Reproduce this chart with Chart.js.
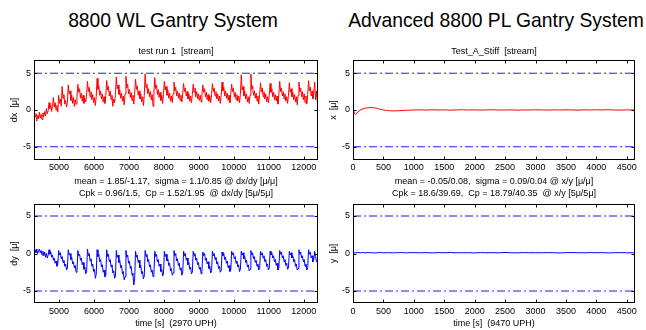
<!DOCTYPE html>
<html><head><meta charset="utf-8">
<script src="https://cdn.jsdelivr.net/npm/chart.js@4.4.1/dist/chart.umd.min.js"></script>
<style>
html,body{margin:0;padding:0;background:#fff;width:646px;height:330px;overflow:hidden;}
canvas{position:absolute;}
.main{position:absolute;font-family:"Liberation Sans",Arial,sans-serif;font-size:21px;line-height:24px;color:#000;white-space:nowrap;transform:translateX(-50%) scaleX(0.92);top:8px;}
</style></head><body>
<div class="main" style="left:173px">8800 WL Gantry System</div>
<div class="main" style="left:496px">Advanced 8800 PL Gantry System</div>
<canvas id="c1" width="322" height="156" style="left:0;top:44px"></canvas>
<canvas id="c2" width="327" height="156" style="left:319px;top:44px"></canvas>
<canvas id="c3" width="322" height="126" style="left:0;top:204px"></canvas>
<canvas id="c4" width="327" height="126" style="left:319px;top:204px"></canvas>
<script>
// ---------- data ----------
const timeLeft = [
4290,4315,4340,4365,4390,4415,
4440,4465,4490,4515,4540,4565,4590,4615,4640,4665,4690,
4715,4740,4765,4790,4815,4840,4865,4890,4915,4940,4965,
4990,5015,5040,5065,5090,5115,5140,5165,5190,5215,5240,
5265,5290,5315,5340,5365,5390,5415,5440,5465,5490,5515,
5540,5565,5590,5615,5640,5665,5690,5715,5740,5765,5790,
5815,5840,5865,5890,5915,5940,5965,5990,6015,6040,6065,
6090,6115,6140,6165,6190,6215,6240,6265,6290,6315,6340,
6365,6390,6415,6440,6465,6490,6515,6540,6565,6590,6615,
6640,6665,6690,6715,6740,6765,6790,6815,6840,6865,6890,
6915,6940,6965,6990,7015,7040,7065,7090,7115,7140,7165,
7190,7215,7240,7265,7290,7315,7340,7365,7390,7415,7440,
7465,7490,7515,7540,7565,7590,7615,7640,7665,7690,7715,
7740,7765,7790,7815,7840,7865,7890,7915,7940,7965,7990,
8015,8040,8065,8090,8115,8140,8165,8190,8215,8240,8265,
8290,8315,8340,8365,8390,8415,8440,8465,8490,8515,8540,
8565,8590,8615,8640,8665,8690,8715,8740,8765,8790,8815,
8840,8865,8890,8915,8940,8965,8990,9015,9040,9065,9090,
9115,9140,9165,9190,9215,9240,9265,9290,9315,9340,9365,
9390,9415,9440,9465,9490,9515,9540,9565,9590,9615,9640,
9665,9690,9715,9740,9765,9790,9815,9840,9865,9890,9915,
9940,9965,9990,10015,10040,10065,10090,10115,10140,10165,10190,
10215,10240,10265,10290,10315,10340,10365,10390,10415,10440,10465,
10490,10515,10540,10565,10590,10615,10640,10665,10690,10715,10740,
10765,10790,10815,10840,10865,10890,10915,10940,10965,10990,11015,
11040,11065,11090,11115,11140,11165,11190,11215,11240,11265,11290,
11315,11340,11365,11390,11415,11440,11465,11490,11515,11540,11565,
11590,11615,11640,11665,11690,11715,11740,11765,11790,11815,11840,
11865,11890,11915,11940,11965,11990,12015,12040,12065,12090,12115,
12140,12165,12190,12215,12240,12265,12290,12315,12340,12365,12390,
12410];
const dxWL = [
-0.3,-0.9,-0.5,-1.5,-0.7,-1.2,
-0.3,-1.1,-0.6,-1.3,-0.4,-0.9,-0.2,-0.8,0.2,-0.5,-0.1,
1.0,0.2,0.7,-0.2,0.5,1.7,0.4,1.0,0.0,0.6,-0.3,
2.0,0.9,1.5,0.5,3.2,1.6,2.1,0.8,1.3,0.4,1.0,
3.4,2.2,2.6,1.3,2.0,0.9,1.7,0.5,1.4,0.8,1.9,
3.5,2.4,2.9,1.6,2.3,1.2,2.0,0.9,1.6,1.1,2.2,
3.9,2.5,3.1,1.8,2.5,1.4,2.1,1.0,1.7,0.6,1.8,
4.3,2.8,3.3,2.0,2.6,1.5,2.2,1.1,1.8,0.9,2.0,
4.0,2.7,3.2,1.9,2.6,1.4,2.0,0.5,1.5,1.0,2.1,
4.5,2.9,3.4,2.1,2.7,1.6,2.3,1.2,1.9,0.7,2.2,
4.6,3.0,3.5,2.2,2.8,1.7,2.4,1.3,2.0,0.8,2.3,
4.2,2.8,3.3,2.0,2.6,1.5,2.2,1.1,1.8,0.6,2.0,
4.9,3.0,3.5,2.2,2.9,1.8,2.5,1.4,2.1,0.5,2.2,
4.4,2.9,3.4,2.1,2.8,1.7,2.4,1.3,2.0,0.9,2.3,
3.9,2.7,3.2,2.0,2.7,1.6,2.3,1.2,1.9,1.0,2.2,
3.8,2.6,3.1,1.9,2.6,1.6,2.3,1.3,2.0,1.1,2.3,
3.6,2.5,3.0,1.9,2.5,1.5,2.2,1.2,1.9,1.0,2.1,
3.5,2.4,3.0,1.8,2.5,1.5,2.2,1.3,2.0,1.1,2.2,
3.4,2.4,2.9,1.8,2.4,1.4,2.1,1.2,1.9,1.0,2.1,
3.6,2.5,3.0,1.9,2.5,1.5,2.2,1.2,1.9,0.9,2.0,
3.8,2.6,3.1,1.9,2.6,1.6,2.3,1.3,2.0,1.0,2.2,
3.5,2.5,3.0,1.8,2.4,1.4,2.1,1.2,1.9,1.0,2.1,
4.8,2.7,3.2,1.9,2.6,1.5,2.2,1.1,1.8,0.9,2.0,
4.9,2.8,3.3,2.0,2.6,1.6,2.3,1.2,1.9,0.8,2.1,
3.7,2.5,3.0,1.8,2.5,1.5,2.2,1.1,1.8,1.0,2.0,
3.6,2.4,2.9,1.8,2.4,1.4,2.1,1.2,1.9,0.8,2.1,
3.9,2.5,3.0,1.9,2.5,1.5,2.2,1.2,1.8,0.9,2.0,
3.7,2.4,2.9,1.8,2.4,1.4,2.1,1.1,1.8,0.7,2.0,
3.8,2.5,3.0,1.8,2.5,1.4,2.2,1.0,1.9,0.8,2.1,
4.0,2.6,3.1,1.9,2.6,1.5,2.3,3.8,1.4,2.6,1.0,
1.5];
const dyWL = [
0.2,0.5,0.1,0.6,0.0,0.4,
0.6,0.1,0.4,-0.2,0.3,-0.3,0.2,-0.5,0.0,-0.6,-0.2,
0.5,-0.1,0.2,-0.5,-0.2,-0.9,-0.6,-1.3,-1.0,-1.7,-1.5,
0.4,-0.2,0.1,-0.7,-0.4,-1.2,-0.9,-1.7,-1.4,-2.2,-2.0,
0.5,-0.2,0.0,-0.8,-0.5,-1.4,-1.1,-1.9,-1.6,-2.5,-2.3,
0.4,-0.3,-0.1,-0.9,-0.6,-1.5,-1.2,-2.1,-1.8,-2.7,-2.5,
0.6,-0.3,0.0,-1.0,-0.7,-1.7,-1.4,-2.4,-2.1,-3.3,-2.8,
0.5,-0.4,-0.1,-1.1,-0.8,-1.8,-1.5,-2.5,-2.2,-3.1,-2.9,
0.5,-0.4,-0.1,-1.1,-0.8,-1.8,-1.5,-2.6,-2.3,-3.3,-3.0,
0.4,-0.5,-0.2,-1.2,-0.9,-1.9,-1.6,-2.7,-2.4,-3.5,-3.1,
0.4,-0.5,-0.2,-1.3,-1.0,-2.0,-1.7,-2.9,-2.6,-4.2,-3.4,
0.3,-0.5,-0.2,-1.2,-0.9,-1.9,-1.6,-2.7,-2.4,-3.4,-3.0,
0.4,-0.4,-0.1,-1.1,-0.8,-1.8,-1.5,-2.5,-2.2,-3.1,-2.8,
0.3,-0.4,-0.1,-1.1,-0.8,-1.7,-1.4,-2.4,-2.1,-3.0,-2.7,
0.3,-0.4,-0.1,-1.0,-0.7,-1.6,-1.3,-2.3,-2.0,-2.9,-2.6,
0.4,-0.3,0.0,-1.0,-0.7,-1.6,-1.3,-2.2,-1.9,-2.9,-2.6,
0.3,-0.3,0.0,-0.9,-0.6,-1.5,-1.2,-2.1,-1.8,-2.7,-2.5,
0.3,-0.3,0.0,-0.9,-0.6,-1.5,-1.2,-2.1,-1.8,-2.7,-2.4,
0.2,-0.3,0.0,-0.9,-0.6,-1.4,-1.1,-2.0,-1.7,-2.6,-2.3,
0.3,-0.3,0.0,-0.8,-0.5,-1.4,-1.1,-2.0,-1.7,-2.5,-2.3,
0.2,-0.3,0.0,-0.8,-0.5,-1.3,-1.0,-1.9,-1.6,-2.4,-2.2,
0.3,-0.2,0.1,-0.7,-0.4,-1.3,-1.0,-1.8,-1.5,-2.4,-2.1,
0.3,-0.2,0.1,-0.7,-0.4,-1.2,-0.9,-1.8,-1.5,-2.3,-2.1,
0.4,-0.2,0.1,-0.7,-0.4,-1.2,-0.9,-1.7,-1.4,-2.2,-2.0,
0.3,-0.2,0.1,-0.6,-0.3,-1.1,-0.8,-1.7,-1.4,-2.2,-2.0,
0.3,-0.2,0.1,-0.6,-0.3,-1.1,-0.8,-1.6,-1.3,-2.2,-1.9,
0.4,-0.1,0.2,-0.6,-0.3,-1.1,-0.8,-1.6,-1.3,-2.1,-1.9,
0.3,-0.2,0.1,-0.6,-0.3,-1.1,-0.8,-1.7,-1.4,-2.2,-2.0,
0.5,-0.1,0.2,-0.6,-0.3,-1.1,-0.8,-1.7,-1.4,-2.2,-1.9,
0.5,-0.1,0.2,-0.6,-0.3,-1.1,-0.8,0.3,-0.4,-1.0,-1.2,
-1.5];
const timeRight = [
0,15,40,80,120,160,200,250,300,350,400,450,500,550,600,650,700,750,800,850,900,
1000,1100,1200,1300,1400,1500,1600,1700,1800,1900,2000,2100,2200,2300,2400,2500,
2600,2700,2800,2900,3000,3100,3200,3300,3400,3500,3600,3700,3800,3900,4000,4100,
4200,4300,4400,4500,4600,4635];
const xPL = [
-0.2,-0.4,-0.6,-0.3,0.0,0.15,0.25,0.3,0.32,0.3,0.2,0.1,0.0,-0.05,-0.1,-0.12,-0.12,-0.1,-0.08,-0.05,-0.03,
0.0,0.02,-0.01,0.03,0.0,0.02,-0.02,0.01,0.03,0.0,0.02,-0.01,0.01,0.03,-0.01,0.0,
0.02,-0.02,0.01,0.0,0.03,0.01,-0.01,0.02,0.0,0.03,0.01,-0.02,0.02,0.0,0.03,0.01,
0.04,0.0,-0.01,0.01,0.0,-0.02];
const yPL = [
0.05,0.08,0.1,0.12,0.1,0.13,0.09,0.12,0.1,0.08,0.11,0.13,0.09,0.1,0.12,0.08,0.11,0.1,0.13,0.09,0.1,
0.12,0.09,0.11,0.08,0.12,0.1,0.13,0.09,0.11,0.1,0.08,0.12,0.1,0.11,0.09,0.13,
0.1,0.08,0.12,0.1,0.11,0.09,0.12,0.1,0.08,0.11,0.13,0.1,0.09,0.12,0.1,0.11,
0.08,0.1,0.12,0.09,0.1,0.08];
const xRangeLeft = [4285, 12410];
const xRangeRight = [0, 4635];
const xTicksLeft = [5000,6000,7000,8000,9000,10000,11000,12000];
const xTicksRight = [0,500,1000,1500,2000,2500,3000,3500,4000,4500];
const yTicks = [-5,0,5];
const specLimits = [5,-5];
const yRangeTop = [-6.8, 6.8];
const yRangeBottom = [-6.6, 6.6];

// ---------- drawing ----------
const FONT = '"Liberation Sans", Arial, sans-serif';
const framePlugin = {
  id: 'frame',
  afterDatasetsDraw(chart) {
    const {ctx, chartArea: a, scales: {x, y}} = chart;
    ctx.save();
    ctx.strokeStyle = '#000'; ctx.lineWidth = 1;
    const L = Math.round(a.left) + 0.5, R = Math.round(a.right) - 0.5;
    const T = Math.round(a.top) + 0.5, B = Math.round(a.bottom) - 0.5;
    ctx.strokeRect(L, T, R - L, B - T);
    ctx.beginPath();
    x.ticks.forEach(t => { const p = Math.round(x.getPixelForValue(t.value)) + 0.5;
      ctx.moveTo(p, B); ctx.lineTo(p, B - 3); ctx.moveTo(p, T); ctx.lineTo(p, T + 3); });
    y.ticks.forEach(t => { const p = Math.round(y.getPixelForValue(t.value)) + 0.5;
      ctx.moveTo(L, p); ctx.lineTo(L + 3, p); ctx.moveTo(R, p); ctx.lineTo(R - 3, p); });
    ctx.stroke();
    ctx.restore();
  }
};

function makeChart(id, o) {
  const pts = o.t.map((t, i) => ({x: t, y: o.v[i]}));
  const limitSets = specLimits.map(lim => ({
    data: [{x: o.xr[0], y: lim}, {x: o.xr[1], y: lim}],
    borderColor: 'rgba(0,0,255,0.9)', borderWidth: 1, borderDash: [8, 3, 2, 3],
    pointRadius: 0, fill: false
  }));
  new Chart(document.getElementById(id), {
    type: 'line',
    data: { datasets: [
      { data: pts, borderColor: o.color, borderWidth: 1, pointRadius: 0, tension: 0, fill: false },
      ...limitSets ] },
    options: {
      responsive: false, animation: false,
      layout: { padding: { left: 0, right: o.pr, top: 0, bottom: 0 } },
      plugins: {
        legend: { display: false }, tooltip: { enabled: false },
        title: o.title ? { display: true, text: o.title, fullSize: false, color: '#000',
          font: { family: FONT, size: 9, weight: 'normal', lineHeight: 1.2 },
          padding: { top: 2.6, bottom: 2.6 } } : { display: false }
      },
      scales: {
        x: {
          type: 'linear', min: o.xr[0], max: o.xr[1],
          afterBuildTicks: s => { s.ticks = o.xt.map(v => ({value: v})); },
          grid: { display: false, drawTicks: false }, border: { display: false },
          ticks: { color: '#000', font: { family: FONT, size: 9 }, padding: o.tickPad,
                   maxRotation: 0, autoSkip: false, callback: v => String(v) },
          title: { display: true, text: o.xtitle, color: '#000',
                   font: { family: FONT, size: 9, lineHeight: 1.4 },
                   padding: { top: 0, bottom: o.xtPad } },
          afterFit: s => { s.height = o.hx; s.paddingLeft = 0; s.paddingRight = 0; }
        },
        y: {
          type: 'linear', min: o.yr[0], max: o.yr[1],
          afterBuildTicks: s => { s.ticks = yTicks.map(v => ({value: v})); },
          grid: { display: false, drawTicks: false }, border: { display: false },
          ticks: { color: '#000', font: { family: FONT, size: 9 }, padding: 3,
                   callback: v => String(v) },
          title: { display: true, text: o.ytitle, color: '#000',
                   font: { family: FONT, size: 9, lineHeight: 1.2 },
                   padding: { top: o.ytPad, bottom: 0 } },
          afterFit: s => { s.width = o.wy; s.paddingTop = 0; s.paddingBottom = 0; }
        }
      }
    },
    plugins: [framePlugin]
  });
}

makeChart('c1', { t: timeLeft, v: dxWL, color: '#ff0000', xr: xRangeLeft, xt: xTicksLeft, yr: yRangeTop,
  title: 'test run 1  [stream]', ytitle: 'dx  [\u03bc]',
  xtitle: ['mean = 1.85/-1.17,  sigma = 1.1/0.85 @ dx/dy [\u03bc/\u03bc]', 'Cpk = 0.96/1.5,  Cp = 1.52/1.95  @ dx/dy [5\u03bc/5\u03bc]'],
  pr: 4, wy: 34, hx: 40, tickPad: 2, xtPad: 0, ytPad: 9.6 });
makeChart('c2', { t: timeRight, v: xPL, color: '#ff0000', xr: xRangeRight, xt: xTicksRight, yr: yRangeTop,
  title: 'Test_A_Stiff  [stream]', ytitle: 'x  [\u03bc]',
  xtitle: ['mean = -0.05/0.08,  sigma = 0.09/0.04 @ x/y [\u03bc/\u03bc]', 'Cpk = 18.6/39.69,  Cp = 18.79/40.35  @ x/y [5\u03bc/5\u03bc]'],
  pr: 11, wy: 34, hx: 40, tickPad: 2, xtPad: 0, ytPad: 8.9 });
makeChart('c3', { t: timeLeft, v: dyWL, color: '#0000ff', xr: xRangeLeft, xt: xTicksLeft, yr: yRangeBottom,
  title: null, ytitle: 'dy  [\u03bc]', xtitle: 'time [s]  (2970 UPH)',
  pr: 4, wy: 34, hx: 27, tickPad: 3.5, xtPad: 0.6, ytPad: 9.6 });
makeChart('c4', { t: timeRight, v: yPL, color: '#0000ff', xr: xRangeRight, xt: xTicksRight, yr: yRangeBottom,
  title: null, ytitle: 'y  [\u03bc]', xtitle: 'time [s]  (9470 UPH)',
  pr: 11, wy: 34, hx: 27, tickPad: 3.5, xtPad: 0.6, ytPad: 8.9 });
</script>
</body></html>
